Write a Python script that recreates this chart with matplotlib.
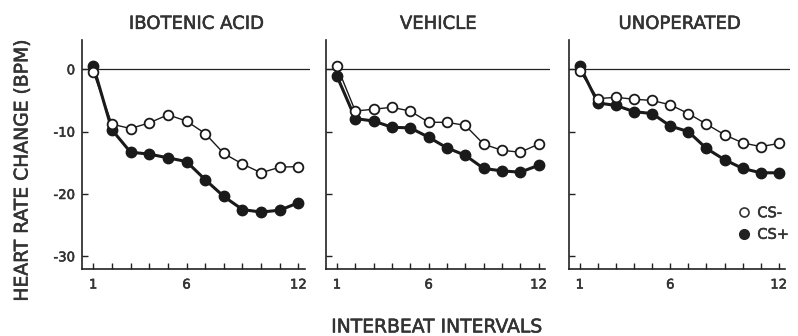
import matplotlib
matplotlib.use("Agg")
import matplotlib.pyplot as plt
import matplotlib.patheffects as pe

intervals = list(range(1, 13))
panel_titles = ["IBOTENIC ACID", "VEHICLE", "UNOPERATED"]

ibotenic_cs_minus = [-0.4, -8.8, -9.5, -8.6, -7.3, -8.3, -10.3, -13.5, -15.2, -16.6, -15.7, -15.6]
ibotenic_cs_plus = [0.6, -9.7, -13.3, -13.6, -14.2, -14.8, -17.7, -20.4, -22.5, -22.9, -22.6, -21.4]
vehicle_cs_minus = [0.5, -6.7, -6.4, -6.1, -6.7, -8.5, -8.5, -9.0, -12.0, -13.0, -13.3, -12.0]
vehicle_cs_plus = [-1.1, -7.9, -8.3, -9.3, -9.4, -10.9, -12.6, -13.8, -15.9, -16.3, -16.5, -15.4]
unoperated_cs_minus = [-0.3, -4.7, -4.5, -4.8, -5.0, -5.7, -7.1, -8.8, -10.5, -11.8, -12.4, -11.9]
unoperated_cs_plus = [0.5, -5.4, -5.8, -6.8, -7.1, -9.1, -10.0, -12.7, -14.5, -15.9, -16.6, -16.6]

cs_minus = [ibotenic_cs_minus, vehicle_cs_minus, unoperated_cs_minus]
cs_plus = [ibotenic_cs_plus, vehicle_cs_plus, unoperated_cs_plus]

y_ticks = [0, -10, -20, -30]
y_tick_labels = ["0", "-10", "-20", "-30"]
x_tick_labels = {1: "1", 6: "6", 12: "12"}

plt.rcParams['font.family'] = ['DejaVu Sans']
txt = '#333333'
thick = [pe.withStroke(linewidth=0.4, foreground=txt)]

fig = plt.figure(figsize=(7.98, 3.36), dpi=100)
lefts = [0.1028, 0.4085, 0.713]
widths = [0.2857, 0.2807, 0.277]
bottom, height = 0.2, 0.681

for i in range(3):
    ax = fig.add_axes([lefts[i], bottom, widths[i], height])
    ax.axhline(0, color='#222222', lw=0.9, zorder=1)
    ax.plot(intervals, cs_plus[i], color='#1a1a1a', lw=2.2, marker='o', ms=7.5,
            mfc='#1a1a1a', mec='#1a1a1a', zorder=3)
    ax.plot(intervals, cs_minus[i], color='#1a1a1a', lw=1.0, marker='o', ms=7,
            mfc='white', mec='#1a1a1a', mew=1.3, zorder=4)
    ax.set_xlim(0.4, 12.62)
    ax.set_ylim(-32, 4.7)
    ax.spines['top'].set_visible(False)
    ax.spines['right'].set_visible(False)
    for s in ['left', 'bottom']:
        ax.spines[s].set_linewidth(1.2)
        ax.spines[s].set_color('#222222')
    ax.spines['bottom'].set_bounds(0.4, 12.35)
    ax.set_xticks(intervals)
    ax.set_xticklabels([x_tick_labels.get(v, "") for v in intervals])
    ax.set_yticks(y_ticks)
    if i == 0:
        ax.set_yticklabels(y_tick_labels)
    else:
        ax.set_yticklabels([])
    ax.tick_params(direction='in', length=4, width=1.0, colors='#222222',
                   labelsize=9.5, labelcolor=txt)
    ax.tick_params(axis='x', pad=7)
    ax.tick_params(axis='y', pad=5)
    for lab in ax.get_xticklabels() + ax.get_yticklabels():
        lab.set_path_effects(thick)
    ax.set_title(panel_titles[i], fontsize=13, color=txt, pad=8, path_effects=thick)

ax.plot([], [], ls='none', marker='o', ms=6.5, mfc='white', mec='#333333', mew=1.2, label='CS-')
ax.plot([], [], ls='none', marker='o', ms=7, mfc='#222222', mec='#222222', label='CS+')
h, l = ax.get_legend_handles_labels()
leg = ax.legend(h[-2:], l[-2:], loc='center left', bbox_to_anchor=(0.74, 0.198), frameon=False,
                fontsize=10.5, handlelength=0.6, handletextpad=0.6, labelspacing=0.45,
                borderpad=0, labelcolor=txt)
for t in leg.get_texts():
    t.set_path_effects(thick)

fig.text(0.548, 0.027, "INTERBEAT INTERVALS", ha='center', va='center', fontsize=13.5,
         color=txt, path_effects=thick)
fig.text(0.0276, 0.494, "HEART RATE CHANGE (BPM)", ha='center', va='center', rotation=90,
         fontsize=13.5, color=txt, path_effects=thick)

fig.savefig("out.png", dpi=100)
